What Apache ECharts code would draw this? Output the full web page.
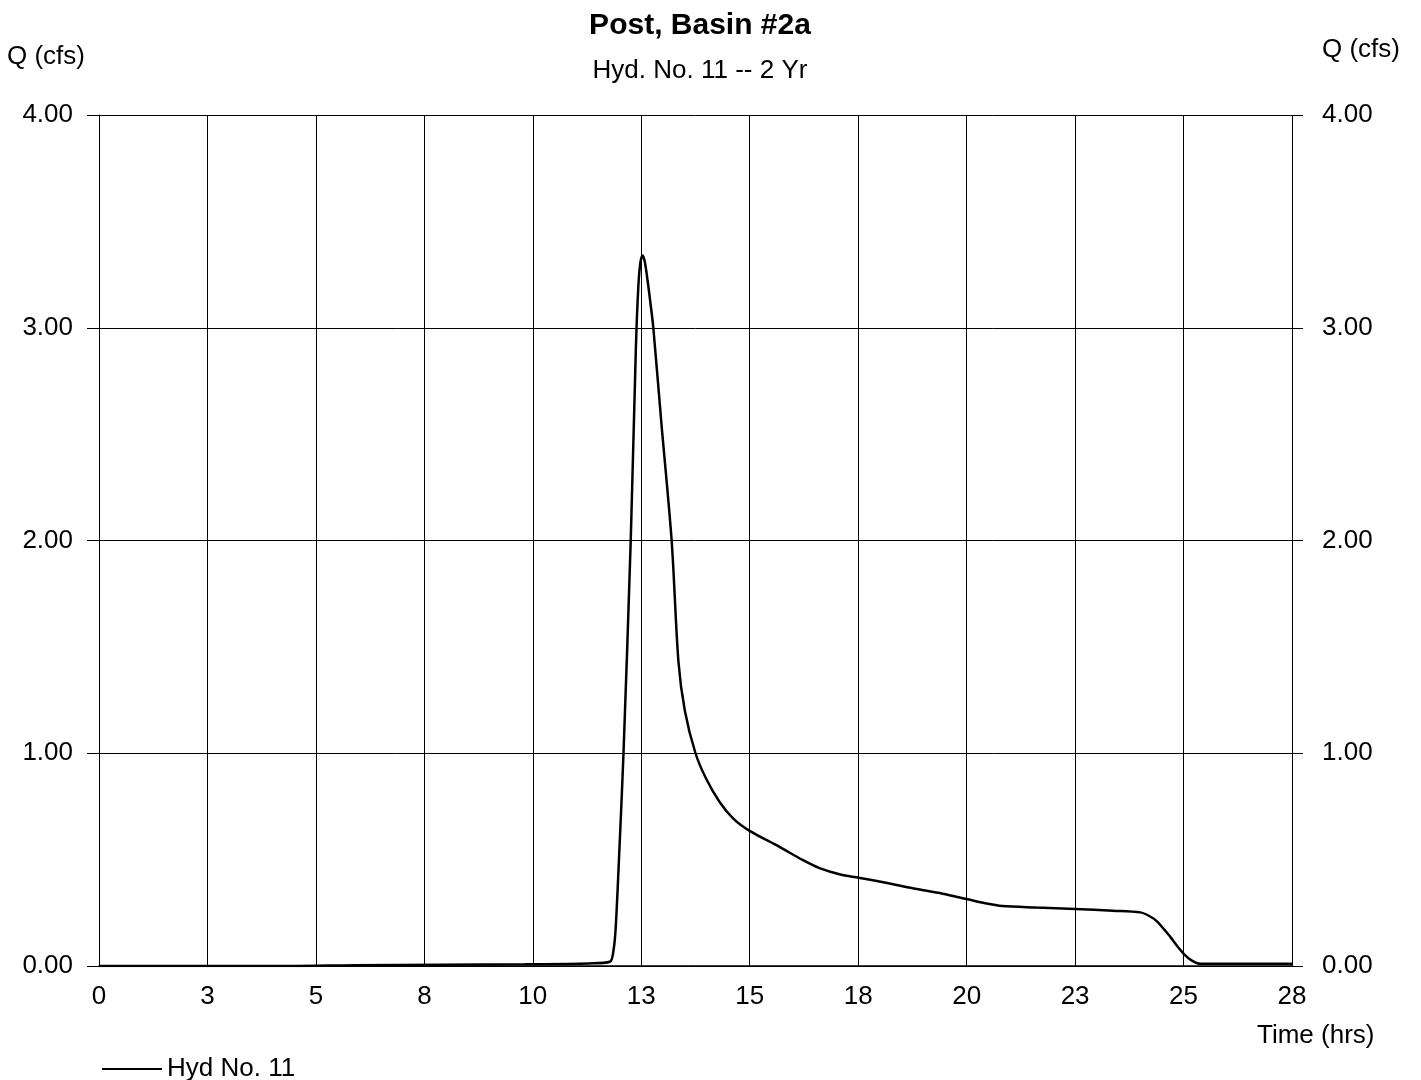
<!DOCTYPE html>
<html>
<head>
<meta charset="utf-8">
<script src="https://cdn.jsdelivr.net/npm/echarts@6/dist/echarts.min.js"></script>
<style>
html,body{margin:0;padding:0;background:#fff;}
#chart{width:1421px;height:1080px;}
</style>
</head>
<body>
<div id="chart"></div>
<script>
// Time (hrs)
const timeHrs = [0,4.5,6,8,10,11.5,11.99,12.08,12.13,12.21,12.31,12.48,12.6,12.66,12.71,12.76,12.81,12.87,12.94,13.01,13.2,13.44,13.6,13.75,14.0,14.25,14.57,14.9,15.27,15.97,16.5,16.91,17.4,17.83,18.5,19.1,19.8,20.36,20.8,21.2,22.0,22.91,23.8,24.44,24.65,24.83,25.14,25.3,25.47,25.65,25.85,28];
// Q (cfs)
const flowCfs = [0,0,0.004,0.006,0.008,0.012,0.02,0.08,0.19,0.53,1.0,2.0,2.9,3.2,3.31,3.34,3.31,3.23,3.12,3.0,2.55,2.0,1.43,1.2,1.0,0.88,0.77,0.69,0.635,0.56,0.5,0.46,0.43,0.415,0.39,0.365,0.34,0.315,0.295,0.282,0.275,0.268,0.26,0.252,0.235,0.21,0.138,0.095,0.055,0.025,0.01,0.01];
const seriesName = 'Hyd No. 11';
const titleText = 'Post, Basin #2a';
const subtitleText = 'Hyd. No. 11 -- 2 Yr';
const xMax = 28, xDivisions = 11;
const yMax = 4, yInterval = 1;

const font = 'Liberation Sans, Arial, sans-serif';
const chart = echarts.init(document.getElementById('chart'));
const data = timeHrs.map((t,i)=>[t, flowCfs[i]]);
const lineStyleGrid = {color:'#000', width:1};
chart.setOption({
  animation:false,
  backgroundColor:'#fff',
  title:{
    text:titleText, subtext:subtitleText, left:695, textAlign:'center', top:6,
    textStyle:{fontFamily:font, fontWeight:'bold', fontSize:30, color:'#000'},
    subtextStyle:{fontFamily:font, fontSize:26, color:'#000'},
    itemGap:17
  },
  legend:{
    left:97, top:1051, icon:'rect', itemWidth:60, itemHeight:2, itemGap:12,
    textStyle:{fontFamily:font, fontSize:26, color:'#000'},
    data:[{name:seriesName, itemStyle:{color:'#000'}}]
  },
  graphic:[
    {type:'text', left:7, top:44, style:{text:'Q (cfs)', font:'26px '+font, fill:'#000'}},
    {type:'text', left:1322, top:37, style:{text:'Q (cfs)', font:'26px '+font, fill:'#000'}},
    {type:'text', left:1257, top:1023, style:{text:'Time (hrs)', font:'26px '+font, fill:'#000'}}
  ],
  grid:{left:99, right:129, top:115, bottom:114, containLabel:false},
  xAxis:{
    type:'value', min:0, max:xMax, interval:xMax/xDivisions,
    axisLine:{show:true, lineStyle:{color:'#000', width:1.5}},
    axisTick:{show:false},
    axisLabel:{color:'#000', fontFamily:font, fontSize:26, margin:18,
      formatter:v=>String(Math.round(v))},
    splitLine:{show:true, lineStyle:lineStyleGrid}
  },
  yAxis:[{
    type:'value', min:0, max:yMax, interval:yInterval, position:'left',
    axisLine:{show:true, lineStyle:{color:'#000', width:1}},
    axisTick:{show:true, length:12, lineStyle:{color:'#000'}},
    axisLabel:{color:'#000', fontFamily:font, fontSize:26, margin:26, formatter:v=>v.toFixed(2)},
    splitLine:{show:true, lineStyle:lineStyleGrid}
  },{
    type:'value', min:0, max:yMax, interval:yInterval, position:'right',
    axisLine:{show:false},
    axisTick:{show:true, length:11, lineStyle:{color:'#000'}},
    axisLabel:{color:'#000', fontFamily:font, fontSize:26, margin:30, formatter:v=>v.toFixed(2)},
    splitLine:{show:false}
  }],
  series:[{
    name:seriesName, type:'line', data:data, showSymbol:false, smooth:0.3,
    lineStyle:{color:'#000', width:2.5}, itemStyle:{color:'#000'}
  }]
});
</script>
</body>
</html>
